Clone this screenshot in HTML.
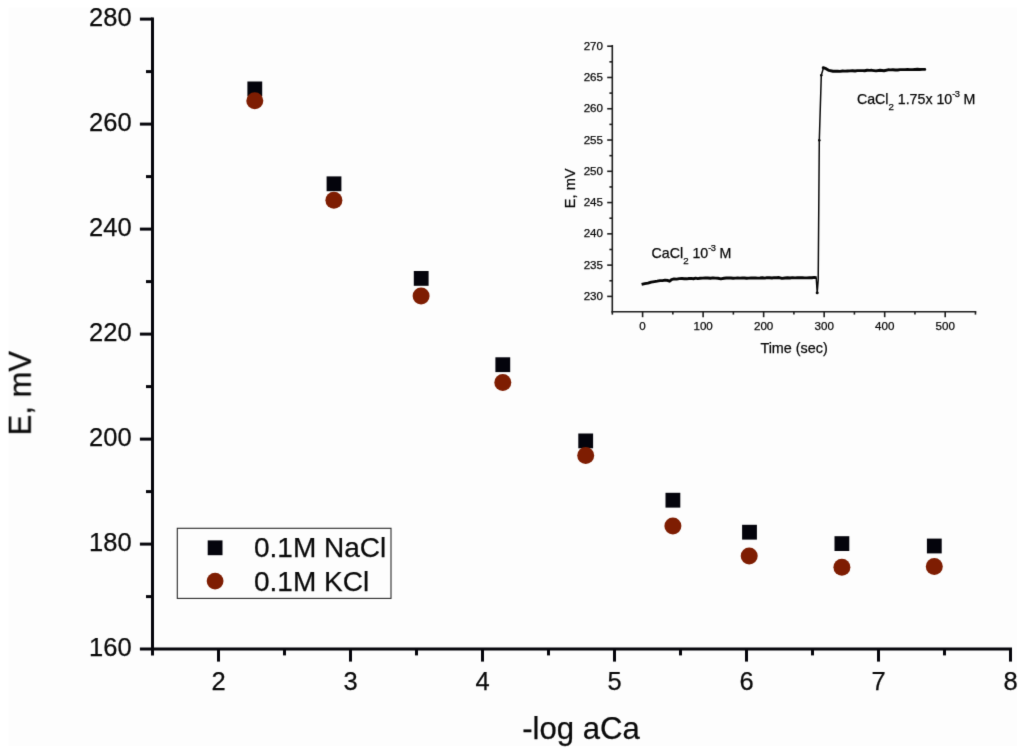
<!DOCTYPE html>
<html lang="en"><head><meta charset="utf-8"><title>E vs -log aCa</title>
<style>
html,body{margin:0;padding:0;background:#fff;}
body{width:1024px;height:754px;overflow:hidden;}
text{stroke:#0a0a0a;stroke-width:0.25px}
svg{display:block;font-family:"Liberation Sans",Arial,Helvetica,sans-serif;}
.ax{stroke:#06060c;stroke-width:3;fill:none;stroke-linecap:butt}
.iax{stroke:#1c1c1c;stroke-width:1.6;fill:none}
.tl{font-size:25.5px;fill:#0a0a0a}
.itl{font-size:11.6px;fill:#050505}
.it{font-size:14.2px;fill:#050505}
</style></head><body>
<svg width="1024" height="754" viewBox="0 0 1024 754">
<rect x="0" y="0" width="1024" height="754" fill="#ffffff"/>
<rect x="8.4" y="7.6" width="1008.8" height="738.6" fill="#fdfdfd"/>
<defs><filter id="soft" x="0" y="0" width="1024" height="754" filterUnits="userSpaceOnUse" color-interpolation-filters="sRGB"><feConvolveMatrix order="3" kernelMatrix="0.01 0.08 0.01 0.08 0.64 0.08 0.01 0.08 0.01" edgeMode="duplicate"/></filter></defs>
<g id="main" filter="url(#soft)">
<path class="ax" d="M152.5 17.6V655.4"/>
<path class="ax" d="M139.9 649.1H1012"/>
<path class="ax" d="M146 596.60H152.5"/>
<path class="ax" d="M139.9 544.10H152.5"/>
<path class="ax" d="M146 491.60H152.5"/>
<path class="ax" d="M139.9 439.10H152.5"/>
<path class="ax" d="M146 386.60H152.5"/>
<path class="ax" d="M139.9 334.10H152.5"/>
<path class="ax" d="M146 281.60H152.5"/>
<path class="ax" d="M139.9 229.10H152.5"/>
<path class="ax" d="M146 176.60H152.5"/>
<path class="ax" d="M139.9 124.10H152.5"/>
<path class="ax" d="M146 71.60H152.5"/>
<path class="ax" d="M139.9 19.10H152.5"/>
<path class="ax" d="M218.50 649.1V661.6"/>
<path class="ax" d="M284.50 649.1V655.4"/>
<path class="ax" d="M350.50 649.1V661.6"/>
<path class="ax" d="M416.50 649.1V655.4"/>
<path class="ax" d="M482.50 649.1V661.6"/>
<path class="ax" d="M548.50 649.1V655.4"/>
<path class="ax" d="M614.50 649.1V661.6"/>
<path class="ax" d="M680.50 649.1V655.4"/>
<path class="ax" d="M746.50 649.1V661.6"/>
<path class="ax" d="M812.50 649.1V655.4"/>
<path class="ax" d="M878.50 649.1V661.6"/>
<path class="ax" d="M944.50 649.1V655.4"/>
<path class="ax" d="M1010.50 649.1V661.6"/>
<text class="tl" x="131.6" y="656.40" text-anchor="end">160</text>
<text class="tl" x="131.6" y="551.40" text-anchor="end">180</text>
<text class="tl" x="131.6" y="446.40" text-anchor="end">200</text>
<text class="tl" x="131.6" y="341.40" text-anchor="end">220</text>
<text class="tl" x="131.6" y="236.40" text-anchor="end">240</text>
<text class="tl" x="131.6" y="131.40" text-anchor="end">260</text>
<text class="tl" x="131.6" y="26.40" text-anchor="end">280</text>
<text class="tl" x="218.70" y="690.3" text-anchor="middle">2</text>
<text class="tl" x="350.70" y="690.3" text-anchor="middle">3</text>
<text class="tl" x="482.70" y="690.3" text-anchor="middle">4</text>
<text class="tl" x="614.70" y="690.3" text-anchor="middle">5</text>
<text class="tl" x="746.70" y="690.3" text-anchor="middle">6</text>
<text class="tl" x="878.70" y="690.3" text-anchor="middle">7</text>
<text class="tl" x="1010.70" y="690.3" text-anchor="middle">8</text>
<text x="581" y="739.1" text-anchor="middle" font-size="31.1" fill="#0a0a0a">-log aCa</text>
<text transform="translate(30.7 393.2) rotate(-90)" text-anchor="middle" font-size="31" fill="#0a0a0a">E, mV</text>
<rect x="247.4" y="81.5" width="14.8" height="14.8" fill="#04040c"/>
<rect x="326.6" y="176.4" width="14.8" height="14.8" fill="#04040c"/>
<rect x="413.8" y="271.0" width="14.8" height="14.8" fill="#04040c"/>
<rect x="495.4" y="357.3" width="14.8" height="14.8" fill="#04040c"/>
<rect x="578.3" y="433.5" width="14.8" height="14.8" fill="#04040c"/>
<rect x="665.5" y="492.8" width="14.8" height="14.8" fill="#04040c"/>
<rect x="742.1" y="524.8" width="14.8" height="14.8" fill="#04040c"/>
<rect x="834.5" y="536.2" width="14.8" height="14.8" fill="#04040c"/>
<rect x="926.9" y="538.6" width="14.8" height="14.8" fill="#04040c"/>
<circle cx="254.8" cy="100.7" r="8.5" fill="#7e1d02"/>
<circle cx="333.9" cy="200.3" r="8.5" fill="#7e1d02"/>
<circle cx="421.1" cy="295.9" r="8.5" fill="#7e1d02"/>
<circle cx="502.8" cy="382.4" r="8.5" fill="#7e1d02"/>
<circle cx="585.7" cy="455.5" r="8.5" fill="#7e1d02"/>
<circle cx="672.9" cy="525.9" r="8.5" fill="#7e1d02"/>
<circle cx="749.2" cy="555.9" r="8.5" fill="#7e1d02"/>
<circle cx="841.9" cy="567.2" r="8.5" fill="#7e1d02"/>
<circle cx="934.3" cy="566.6" r="8.5" fill="#7e1d02"/>
<rect x="177.3" y="528.3" width="213.7" height="70.1" fill="#fdfdfd" stroke="#2a2a2a" stroke-width="1.1"/>
<rect x="207.7" y="540.4" width="14.8" height="14.8" fill="#04040c"/>
<circle cx="215.1" cy="581.1" r="8.4" fill="#7e1d02"/>
<text x="254" y="556.9" font-size="28" fill="#0a0a0a">0.1M NaCl</text>
<text x="254" y="590.7" font-size="28" fill="#0a0a0a">0.1M KCl</text>
</g>
<g id="inset" filter="url(#soft)">
<path class="iax" d="M612.3 45.1V312.5"/>
<path class="iax" d="M611.5 311.7H976.3"/>
<path class="iax" d="M607.2 296.40H612.3"/>
<text class="itl" x="603.0" y="300.00" text-anchor="end">230</text>
<path class="iax" d="M609.4 280.76H612.3"/>
<path class="iax" d="M607.2 265.12H612.3"/>
<text class="itl" x="603.0" y="268.73" text-anchor="end">235</text>
<path class="iax" d="M609.4 249.49H612.3"/>
<path class="iax" d="M607.2 233.85H612.3"/>
<text class="itl" x="603.0" y="237.45" text-anchor="end">240</text>
<path class="iax" d="M609.4 218.21H612.3"/>
<path class="iax" d="M607.2 202.57H612.3"/>
<text class="itl" x="603.0" y="206.17" text-anchor="end">245</text>
<path class="iax" d="M609.4 186.94H612.3"/>
<path class="iax" d="M607.2 171.30H612.3"/>
<text class="itl" x="603.0" y="174.90" text-anchor="end">250</text>
<path class="iax" d="M609.4 155.66H612.3"/>
<path class="iax" d="M607.2 140.02H612.3"/>
<text class="itl" x="603.0" y="143.62" text-anchor="end">255</text>
<path class="iax" d="M609.4 124.39H612.3"/>
<path class="iax" d="M607.2 108.75H612.3"/>
<text class="itl" x="603.0" y="112.35" text-anchor="end">260</text>
<path class="iax" d="M609.4 93.11H612.3"/>
<path class="iax" d="M607.2 77.47H612.3"/>
<text class="itl" x="603.0" y="81.07" text-anchor="end">265</text>
<path class="iax" d="M609.4 61.84H612.3"/>
<path class="iax" d="M607.2 46.20H612.3"/>
<text class="itl" x="603.0" y="49.80" text-anchor="end">270</text>
<path class="iax" d="M612.34 311.7V314.6"/>
<path class="iax" d="M642.60 311.7V317.2"/>
<text class="itl" x="642.60" y="330.1" text-anchor="middle">0</text>
<path class="iax" d="M672.86 311.7V314.6"/>
<path class="iax" d="M703.12 311.7V317.2"/>
<text class="itl" x="703.12" y="330.1" text-anchor="middle">100</text>
<path class="iax" d="M733.38 311.7V314.6"/>
<path class="iax" d="M763.64 311.7V317.2"/>
<text class="itl" x="763.64" y="330.1" text-anchor="middle">200</text>
<path class="iax" d="M793.90 311.7V314.6"/>
<path class="iax" d="M824.16 311.7V317.2"/>
<text class="itl" x="824.16" y="330.1" text-anchor="middle">300</text>
<path class="iax" d="M854.42 311.7V314.6"/>
<path class="iax" d="M884.68 311.7V317.2"/>
<text class="itl" x="884.68" y="330.1" text-anchor="middle">400</text>
<path class="iax" d="M914.94 311.7V314.6"/>
<path class="iax" d="M945.20 311.7V317.2"/>
<text class="itl" x="945.20" y="330.1" text-anchor="middle">500</text>
<path class="iax" d="M975.46 311.7V314.6"/>
<text class="it" style="font-size:14.4px" x="794.1" y="352.8" text-anchor="middle">Time (sec)</text>
<text class="it" style="font-size:14.6px" transform="translate(574.6 188.3) rotate(-90)" text-anchor="middle">E, mV</text>
<path d="M641.6 284.40 L644.8 283.60 L648.0 283.18 L651.2 282.11 L654.4 281.62 L657.2 281.17 L660.0 280.65 L662.5 280.65 L665.0 280.14 L668.0 280.56 L669.6 281.26 L671.5 279.57 L674.0 278.96 L676.7 279.08 L679.3 278.59 L682.0 278.55 L684.3 278.70 L686.7 278.82 L689.0 278.54 L691.2 278.42 L693.4 278.73 L695.6 278.19 L697.8 278.62 L700.0 278.28 L702.6 278.12 L705.2 278.03 L707.8 278.05 L710.4 278.26 L713.0 277.82 L715.5 278.15 L718.0 278.28 L720.8 278.83 L724.0 278.23 L726.3 277.94 L728.6 277.92 L730.9 277.99 L733.1 278.24 L735.4 278.09 L737.7 278.01 L740.0 278.15 L742.2 278.05 L744.4 277.94 L746.7 278.20 L748.9 278.12 L751.1 277.85 L753.3 278.01 L755.6 277.96 L757.8 278.13 L760.0 278.03 L762.4 277.77 L764.8 278.14 L767.1 277.65 L769.5 277.80 L771.9 277.98 L774.2 277.63 L776.6 277.81 L779.0 277.54 L782.0 278.39 L785.0 277.95 L787.5 277.82 L790.0 277.98 L792.5 277.65 L795.0 277.84 L797.5 277.77 L800.0 277.74 L802.4 277.66 L804.7 277.86 L807.1 277.91 L809.5 277.63 L811.9 277.72 L814.2 277.37 L816.6 277.60" fill="none" stroke="#050505" stroke-width="2.9" stroke-linejoin="round"/>
<path d="M816.2 277.5 L817.2 292.7 L818.2 280 L819.3 140.2 L821.3 75.2 L823.6 67.4" fill="none" stroke="#080808" stroke-width="1.5" stroke-linejoin="round"/>
<path d="M823.2 67.68 L826.0 68.66 L829.0 70.40 L833.0 71.23 L835.3 71.08 L837.7 71.19 L840.0 71.37 L842.5 71.04 L845.0 71.15 L847.5 70.97 L850.0 70.88 L852.5 70.79 L855.0 71.01 L857.4 70.67 L859.9 70.63 L862.3 70.60 L864.7 70.71 L867.1 70.30 L869.6 70.37 L872.0 70.32 L876.0 70.85 L880.0 70.23 L884.0 70.75 L888.0 69.81 L890.4 69.84 L892.9 69.79 L895.3 69.97 L897.7 69.97 L900.1 69.62 L902.6 69.60 L905.0 69.59 L907.5 69.56 L910.0 69.62 L912.4 69.62 L914.9 69.46 L917.4 69.31 L919.8 69.44 L922.3 69.39 L924.8 69.40" fill="none" stroke="#050505" stroke-width="2.9" stroke-linejoin="round" stroke-linecap="round"/>
<circle cx="817.2" cy="292.7" r="1.5" fill="#080808"/><circle cx="819.3" cy="140.2" r="1.3" fill="#080808"/><circle cx="821.3" cy="75.2" r="1.3" fill="#080808"/>
<text class="it" x="651.6" y="258.4">CaCl<tspan font-size="9.7" dy="5.4">2</tspan><tspan dy="-5.4"> 10</tspan><tspan font-size="9.3" dy="-7.3" letter-spacing="-0.5">-3</tspan><tspan dy="7.3"> M</tspan></text>
<text class="it" x="856.9" y="104.1">CaCl<tspan font-size="9.7" dy="5.4">2</tspan><tspan dy="-5.4"> 1.75x 10</tspan><tspan font-size="9.3" dy="-7.3" letter-spacing="-0.5">-3</tspan><tspan dy="7.3"> M</tspan></text>
</g>
</svg>
</body></html>
